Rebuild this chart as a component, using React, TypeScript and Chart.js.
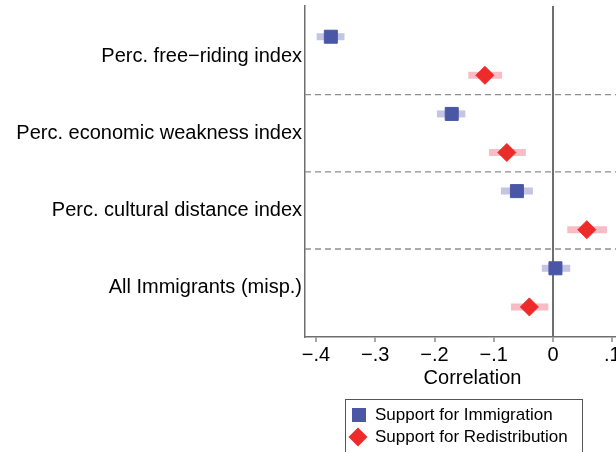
import React, { useEffect, useRef } from "react";
import { Chart, registerables } from "chart.js";

Chart.register(...registerables);

// ---- data ----
const categories = [
  "Perc. free\u2212riding index",
  "Perc. economic weakness index",
  "Perc. cultural distance index",
  "All Immigrants (misp.)",
];
const seriesNames = ["Support for Immigration", "Support for Redistribution"];

const immigration = [-0.375, -0.171, -0.061, 0.004];
const immigrationLo = [-0.399, -0.196, -0.088, -0.019];
const immigrationHi = [-0.352, -0.148, -0.034, 0.029];

const redistribution = [-0.115, -0.078, 0.057, -0.040];
const redistributionLo = [-0.143, -0.108, 0.024, -0.071];
const redistributionHi = [-0.086, -0.046, 0.091, -0.008];

const xTicks = [-0.4, -0.3, -0.2, -0.1, 0, 0.1];
const xMin = -0.4186;
const xMax = 0.1467;
const yMin = -0.648;
const yMax = 3.64;
const seriesOffset = 0.25;
const separators = [0.5, 1.5, 2.5];

// ---- styles ----
const FONT = "'Liberation Sans', Arial, Helvetica, sans-serif";
const BLUE = "#4a57a6";
const BLUE_CI = "#c4c5e4";
const RED = "#ee2a2a";
const RED_CI = "#f7bcc4";
const AXIS = "#6e6e6e";
const DASH = "#8e8e8e";

const fmtX = (v: number) => {
  if (Math.abs(v) < 1e-9) return "0";
  const s = Math.abs(v).toFixed(1).replace(/^0/, "");
  return (v < 0 ? "\u2212" : "") + s;
};

const zeroPad = (scale: any) => {
  scale.paddingTop = 0;
  scale.paddingBottom = 0;
  scale.paddingLeft = 0;
  scale.paddingRight = 0;
};

const legendPlugin = {
  id: "customLegend",
  afterDraw(chart: any) {
    const ctx = chart.ctx as CanvasRenderingContext2D;
    ctx.save();
    ctx.strokeStyle = "#555555";
    ctx.lineWidth = 1;
    ctx.strokeRect(345.5, 399.5, 237, 70);
    ctx.fillStyle = BLUE;
    ctx.fillRect(352, 408, 14, 14);
    ctx.fillStyle = RED;
    ctx.beginPath();
    ctx.moveTo(358, 427.5);
    ctx.lineTo(367.5, 437);
    ctx.lineTo(358, 446.5);
    ctx.lineTo(348.5, 437);
    ctx.closePath();
    ctx.fill();
    ctx.fillStyle = "#000";
    ctx.font = `17px ${FONT}`;
    ctx.textBaseline = "middle";
    ctx.textAlign = "left";
    ctx.fillText(seriesNames[0], 375, 415);
    ctx.fillText(seriesNames[1], 375, 437);
    ctx.restore();
  },
};

export default function App() {
  const ref = useRef<HTMLCanvasElement | null>(null);

  useEffect(() => {
    if (!ref.current) return;

    const ciSets: any[] = [];
    categories.forEach((_, i) => {
      ciSets.push({
        type: "line",
        data: [
          { x: immigrationLo[i], y: i - seriesOffset },
          { x: immigrationHi[i], y: i - seriesOffset },
        ],
        borderColor: BLUE_CI,
        borderWidth: 7,
        borderCapStyle: "butt",
        pointRadius: 0,
        order: 1,
      });
      ciSets.push({
        type: "line",
        data: [
          { x: redistributionLo[i], y: i + seriesOffset },
          { x: redistributionHi[i], y: i + seriesOffset },
        ],
        borderColor: RED_CI,
        borderWidth: 7,
        borderCapStyle: "butt",
        pointRadius: 0,
        order: 1,
      });
    });

    const sepSets = separators.map((s) => ({
      type: "line",
      data: [
        { x: xMin, y: s },
        { x: xMax, y: s },
      ],
      borderColor: DASH,
      borderWidth: 1.3,
      borderDash: [6, 4],
      pointRadius: 0,
      order: 2,
    }));

    const chart = new Chart(ref.current, {
      type: "scatter",
      data: {
        datasets: [
          {
            label: seriesNames[0],
            data: immigration.map((v, i) => ({ x: v, y: i - seriesOffset })),
            pointStyle: "rect",
            pointRadius: 9.2,
            backgroundColor: BLUE,
            borderColor: BLUE,
            borderWidth: 1,
            order: 0,
          },
          {
            label: seriesNames[1],
            data: redistribution.map((v, i) => ({ x: v, y: i + seriesOffset })),
            pointStyle: "rectRot",
            pointRadius: 9,
            backgroundColor: RED,
            borderColor: RED,
            borderWidth: 1,
            order: 0,
          },
          ...ciSets,
          ...sepSets,
        ] as any,
      },
      options: {
        responsive: false,
        animation: false,
        devicePixelRatio: 1,
        layout: {
          autoPadding: false,
          padding: { top: 6, left: 0, right: 0, bottom: 62 },
        },
        plugins: {
          legend: { display: false },
          tooltip: { enabled: false },
        },
        scales: {
          x: {
            type: "linear",
            min: xMin,
            max: xMax,
            afterBuildTicks: (scale: any) => {
              scale.ticks = xTicks.map((v) => ({ value: v }));
            },
            afterFit: (scale: any) => {
              scale.height = 53;
              zeroPad(scale);
            },
            ticks: {
              callback: (v: any) => fmtX(Number(v)),
              font: { family: FONT, size: 20 },
              color: "#000",
              padding: 1,
              autoSkip: false,
              maxRotation: 0,
            },
            grid: {
              display: true,
              color: (c: any) =>
                c.tick && Math.abs(c.tick.value) < 1e-9 ? AXIS : "rgba(0,0,0,0)",
              lineWidth: 2,
              drawTicks: true,
              tickLength: 5,
              tickColor: AXIS,
              tickWidth: 1.2,
            },
            border: { display: true, color: AXIS, width: 1.5 },
            title: {
              display: true,
              text: "Correlation",
              font: { family: FONT, size: 20, lineHeight: 1.2 },
              color: "#000",
              padding: { top: 0, bottom: 0 },
            },
          },
          y: {
            type: "linear",
            reverse: true,
            min: yMin,
            max: yMax,
            afterBuildTicks: (scale: any) => {
              scale.ticks = categories.map((_, i) => ({ value: i }));
            },
            afterFit: (scale: any) => {
              scale.width = 305;
              zeroPad(scale);
            },
            ticks: {
              callback: (_v: any, idx: number) => categories[idx],
              font: { family: FONT, size: 20 },
              color: "#000",
              padding: 3,
              autoSkip: false,
            },
            grid: { display: false, drawTicks: false },
            border: { display: true, color: AXIS, width: 1.5 },
          },
        },
      } as any,
      plugins: [legendPlugin],
    });

    return () => chart.destroy();
  }, []);

  return (
    <div
      style={{
        position: "fixed",
        left: 0,
        top: 0,
        width: 616,
        height: 452,
        overflow: "hidden",
        background: "#fff",
      }}
    >
      <canvas
        ref={ref}
        width={640}
        height={452}
        style={{ width: 640, height: 452, display: "block" }}
      />
    </div>
  );
}
